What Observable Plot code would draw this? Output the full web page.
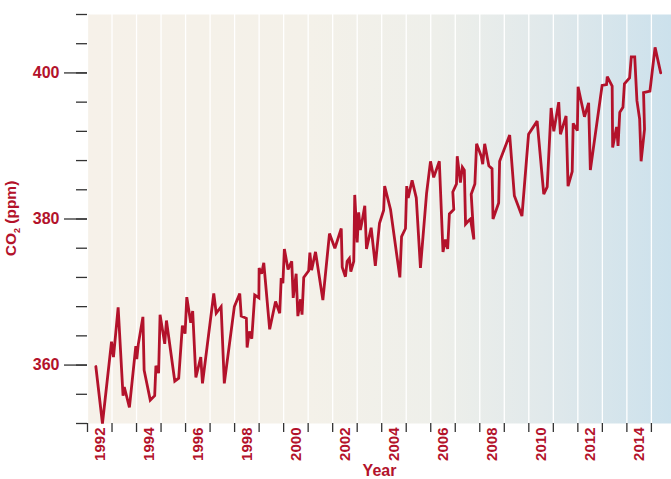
<!DOCTYPE html>
<html><head><meta charset="utf-8">
<script src="https://cdn.jsdelivr.net/npm/d3@7"></script>
<script src="https://cdn.jsdelivr.net/npm/@observablehq/plot@0.6"></script>
<style>body{margin:0;background:#fff} #chart svg{display:block}</style>
</head><body><div id="chart"></div>
<script>
const years = [
1992.34,1992.61,1992.98,1993.06,1993.25,1993.45,1993.50,1993.71,1993.97,1994.01,
1994.07,1994.26,1994.31,1994.56,1994.74,1994.79,1994.90,1994.96,1995.15,1995.22,
1995.56,1995.72,1995.87,1995.98,1996.05,1996.21,1996.29,1996.42,1996.62,1996.69,
1997.15,1997.25,1997.45,1997.58,1997.99,1998.21,1998.27,1998.48,1998.51,1998.60,
1998.70,1998.82,1998.99,1999.00,1999.10,1999.19,1999.43,1999.67,1999.84,1999.90,
1999.97,2000.03,2000.18,2000.33,2000.39,2000.51,2000.58,2000.69,2000.75,2000.82,
2001.02,2001.07,2001.14,2001.30,2001.60,2001.87,2002.09,2002.35,2002.39,2002.52,
2002.59,2002.68,2002.74,2002.86,2002.90,2003.00,2003.06,2003.13,2003.20,2003.31,
2003.38,2003.57,2003.74,2003.91,2004.08,2004.12,2004.36,2004.74,2004.81,2004.97,
2005.02,2005.08,2005.24,2005.41,2005.58,2005.83,2005.99,2006.12,2006.35,2006.50,
2006.60,2006.69,2006.76,2006.94,2006.90,2007.05,2007.08,2007.21,2007.29,2007.37,
2007.42,2007.55,2007.62,2007.76,2007.65,2007.80,2007.87,2008.06,2008.12,2008.20,
2008.37,2008.50,2008.54,2008.77,2008.81,2009.22,2009.41,2009.72,2009.99,2010.34,
2010.61,2010.75,2010.91,2011.02,2011.22,2011.29,2011.52,2011.60,2011.77,2011.81,
2011.98,2012.01,2012.27,2012.44,2012.51,2012.99,2013.17,2013.20,2013.40,2013.42,
2013.58,2013.64,2013.71,2013.84,2013.90,2014.11,2014.18,2014.32,2014.41,2014.52,
2014.58,2014.72,2014.68,2014.94,2015.15,2015.38
];
const co2 = [
359.8,352.0,363.2,361.1,367.9,355.8,357.0,354.2,362.6,360.8,
362.8,366.6,359.3,355.2,355.8,359.9,358.9,366.9,362.9,366.1,
357.8,358.2,365.4,364.3,369.3,365.8,367.4,358.3,361.1,357.5,
369.8,367.1,368.0,357.5,368.0,369.8,366.7,366.4,362.4,364.6,
363.6,369.6,369.2,373.3,372.5,374.0,364.9,368.7,367.1,371.9,
371.2,375.9,373.1,374.2,369.2,372.5,366.7,369.0,366.9,372.0,
372.9,375.4,373.0,375.5,368.9,378.0,376.0,378.7,373.4,372.1,
374.2,374.6,372.8,374.2,383.3,376.8,380.9,378.5,379.7,381.8,
375.9,378.8,373.6,379.4,381.2,384.5,381.3,372.0,377.6,378.7,
384.5,382.9,385.3,382.9,373.3,383.5,387.9,385.7,387.9,375.5,
377.2,375.9,380.7,381.3,383.7,384.8,388.6,385.0,387.1,386.7,
379.3,379.8,380.0,377.2,383.4,384.8,390.3,388.6,387.5,390.3,
387.3,386.9,380.0,382.2,387.9,391.5,383.2,380.4,391.6,393.4,
383.4,384.4,395.2,392.0,396.0,391.6,394.1,384.5,386.5,393.1,
392.1,398.1,394.0,395.9,386.7,398.3,398.4,399.5,398.2,389.8,
392.6,390.0,394.6,395.3,398.5,399.3,402.2,402.2,396.2,393.7,
387.9,392.3,397.3,397.5,403.5,400.0
];
const yearTicks = d3.range(1992, 2016);
const labeledYears = d3.range(1992, 2015, 2);
const yMinorTicks = d3.range(352, 409, 4);
const yLabelTicks = [360, 380, 400];
const yTitleParts = ["CO", "2", " (ppm)"];
const xTitle = "Year";

const data = years.map((x, i) => ({year: x, co2: co2[i]}));
const red = "#b3122b";
const font = "'Liberation Sans', Arial, Helvetica, sans-serif";

const gradientDefs = () => {
  const defs = d3.create("svg:defs");
  const lg = defs.append("linearGradient").attr("id", "bg")
    .attr("x1", "0").attr("x2", "1").attr("y1", "0").attr("y2", "0");
  [["0%", "#f6f1e9"], ["38%", "#f4f1e9"], ["60%", "#eeefea"], ["78%", "#e1e9eb"], ["100%", "#cce1ec"]]
    .forEach(([o, c]) => lg.append("stop").attr("offset", o).attr("stop-color", c));
  return defs.node();
};

const yTitle = (index, scales, values, dims) => {
  const ml = dims ? dims.marginLeft : 87;
  const mt = dims ? dims.marginTop : 14;
  const h = dims ? dims.height : 479;
  const mb = dims ? dims.marginBottom : 56;
  const t = d3.create("svg:text")
    .attr("transform", `translate(${ml - 71},${(mt + h - mb) / 2}) rotate(-90)`)
    .attr("text-anchor", "middle").attr("fill", red).attr("font-weight", "bold")
    .attr("font-size", 15.5).attr("font-family", font);
  t.append("tspan").text(yTitleParts[0]);
  t.append("tspan").attr("font-size", 9).attr("dy", 4).text(yTitleParts[1]);
  t.append("tspan").attr("dy", -4).text(yTitleParts[2]);
  return t.node();
};

const chart = Plot.plot({
  width: 671, height: 479,
  marginLeft: 87, marginRight: 0, marginTop: 14, marginBottom: 56,
  x: {domain: [1992, 2015.82], axis: null, label: null},
  y: {domain: [352, 408], axis: null, label: null},
  style: {fontFamily: font, background: "white"},
  marks: [
    gradientDefs,
    Plot.frame({fill: "url(#bg)", stroke: "none"}),
    Plot.ruleX(yearTicks, {stroke: "white", strokeWidth: 1.3}),
    Plot.axisX({ticks: yearTicks, tickSize: 9, tickFormat: () => "", stroke: "#333", strokeWidth: 1.3, label: null}),
    Plot.axisY({ticks: yMinorTicks, tickSize: 11, tickFormat: () => "", stroke: "#333", strokeWidth: 1.3, label: null}),
    Plot.axisY({ticks: yLabelTicks, tickSize: 23, tickFormat: () => "", stroke: "#333", strokeWidth: 1.3, label: null}),
    Plot.axisY({ticks: yLabelTicks, tickSize: 0, tickPadding: 28, color: red, fontSize: 16, fontWeight: "bold", label: null}),
    Plot.text(labeledYears, {x: d => d + 0.5, frameAnchor: "bottom", rotate: -90, textAnchor: "end", lineAnchor: "middle", dy: 4, fill: red, fontWeight: "bold", fontSize: 15, text: d => String(d)}),
    Plot.text([xTitle], {frameAnchor: "bottom", lineAnchor: "top", dy: 41, fill: red, fontWeight: "bold", fontSize: 16}),
    yTitle,
    Plot.line(data, {x: "year", y: "co2", stroke: red, strokeWidth: 2.8, strokeLinejoin: "miter", strokeMiterlimit: 3})
  ]
});
document.getElementById("chart").appendChild(chart);
</script>
</body></html>
